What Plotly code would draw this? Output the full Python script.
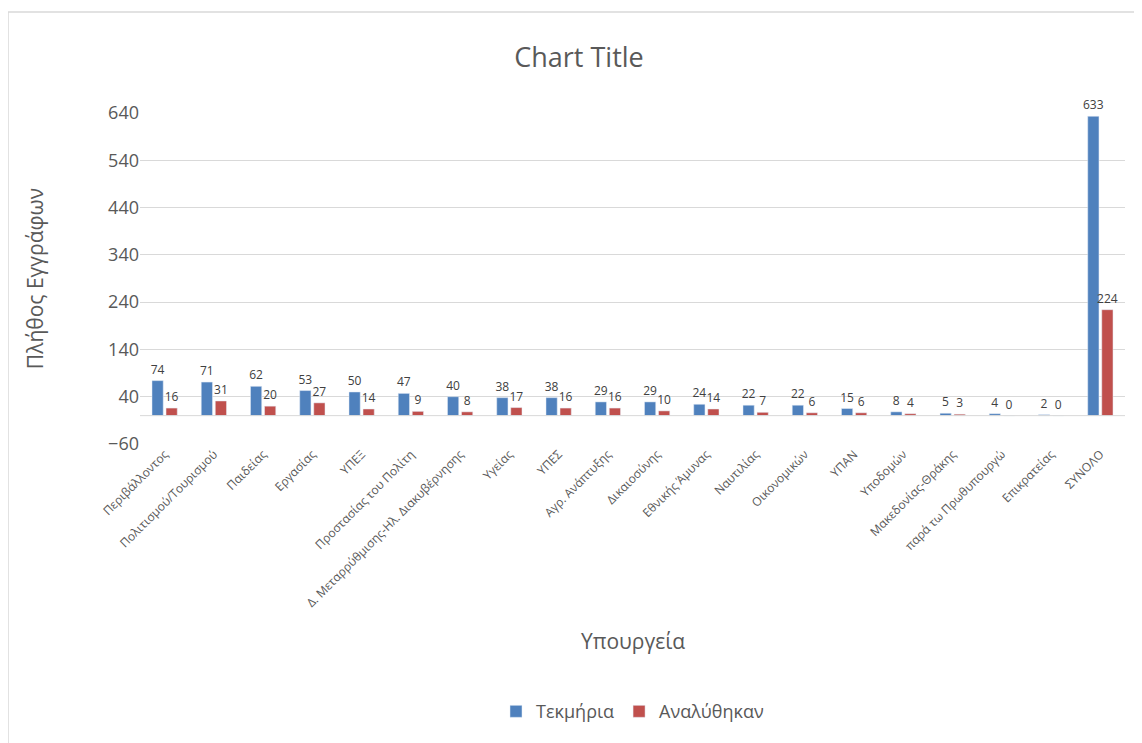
import plotly.graph_objects as go

categories = ["Περιβάλλοντος", "Πολιτισμού/Τουρισμού", "Παιδείας", "Εργασίας", "ΥΠΕΞ",
              "Προστασίας του Πολίτη", "Δ. Μεταρρύθμισης-Ηλ. Διακυβέρνησης", "Υγείας", "ΥΠΕΣ",
              "Αγρ. Ανάπτυξης", "Δικαιοσύνης", "Εθνικής Άμυνας", "Ναυτιλίας", "Οικονομικών",
              "ΥΠΑΝ", "Υποδομών", "Μακεδονίας-Θράκης", "παρά τω Πρωθυπουργώ", "Επικρατείας", "ΣΥΝΟΛΟ"]
tekmiria = [74, 71, 62, 53, 50, 47, 40, 38, 38, 29, 29, 24, 22, 22, 15, 8, 5, 4, 2, 633]
analythikan = [16, 31, 20, 27, 14, 9, 8, 17, 16, 16, 10, 14, 7, 6, 6, 4, 3, 0, 0, 224]
y_ticks = [-60, 40, 140, 240, 340, 440, 540, 640]

font = "Open Sans, Noto Sans, sans-serif"
fig = go.Figure()
fig.add_trace(go.Bar(x=categories, y=tekmiria, name="Τεκμήρια", marker_color="#4F81BD",
                     text=tekmiria, textposition="outside", cliponaxis=False, constraintext="none",
                     textfont=dict(size=12, color="#404040")))
fig.add_trace(go.Bar(x=categories, y=analythikan, name="Αναλύθηκαν", marker_color="#C0504D",
                     text=analythikan, textposition="outside", cliponaxis=False, constraintext="none",
                     textfont=dict(size=12, color="#404040")))

fig.update_layout(
    width=1142, height=743,
    paper_bgcolor="white", plot_bgcolor="white",
    font=dict(family=font, color="#595959"),
    title=dict(text="Chart Title", x=0.5, xanchor="center", y=0.933, yanchor="middle",
               font=dict(size=27, color="#595959")),
    barmode="group", bargap=0.43, bargroupgap=0.2,
    margin=dict(l=132, r=25, t=105, b=307, autoexpand=False),
    legend=dict(orientation="h", x=0.5, xanchor="center", yref="container", y=0.053, yanchor="middle",
                font=dict(size=18, color="#595959"), traceorder="normal"),
    showlegend=True,
)
fig.update_yaxes(range=[-60, 640], tickvals=y_ticks, showgrid=True, gridcolor="#D9D9D9",
                 gridwidth=1, zeroline=False, tickfont=dict(size=18, color="#595959"),
                 title=dict(text="Πλήθος Εγγράφων", font=dict(size=21, color="#595959"), standoff=58),
                 automargin=False, ticks="", showline=False)
fig.update_xaxes(tickangle=-45, tickfont=dict(size=12, color="#595959"), showline=False,
                 automargin=False, ticks="")
fig.add_annotation(text="Υπουργεία", xref="paper", yref="paper", x=0.5, y=-0.595,
                   xanchor="center", yanchor="middle", showarrow=False,
                   font=dict(size=21, color="#595959"))
# baseline at zero
fig.add_hline(y=0, line=dict(color="#D9D9D9", width=1))
# outer chart border
fig.add_shape(type="rect", xref="paper", yref="paper", x0=-0.134, x1=1.2, y0=-1.2, y1=1.305,
              line=dict(color="#D9D9D9", width=1.5))
fig.write_html("out.html")
